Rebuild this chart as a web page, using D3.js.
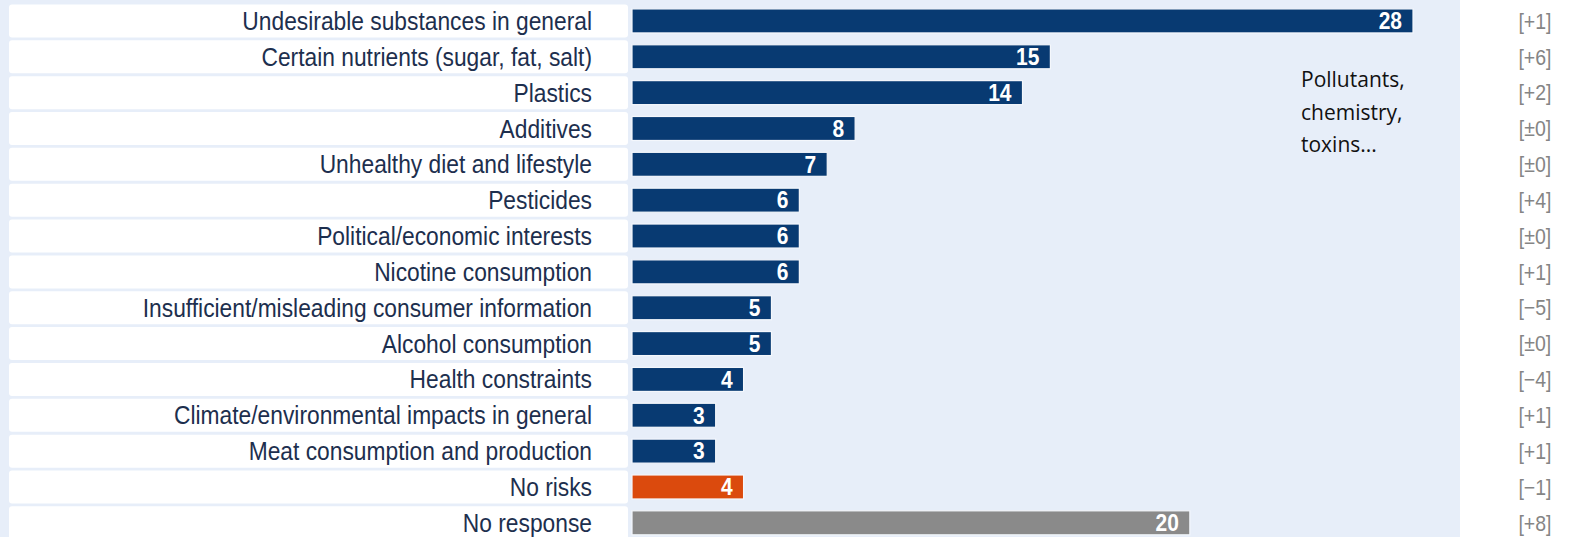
<!DOCTYPE html>
<html>
<head>
<meta charset="utf-8">
<script src="https://cdn.jsdelivr.net/npm/d3@7"></script>
<style>
  html, body { margin: 0; padding: 0; background: #ffffff; }
  svg { display: block; }
</style>
</head>
<body>
<svg id="chart" width="1594" height="537"></svg>
<script>
const categories = [
  "Undesirable substances in general",
  "Certain nutrients (sugar, fat, salt)",
  "Plastics",
  "Additives",
  "Unhealthy diet and lifestyle",
  "Pesticides",
  "Political/economic interests",
  "Nicotine consumption",
  "Insufficient/misleading consumer information",
  "Alcohol consumption",
  "Health constraints",
  "Climate/environmental impacts in general",
  "Meat consumption and production",
  "No risks",
  "No response"
];
const values = [28, 15, 14, 8, 7, 6, 6, 6, 5, 5, 4, 3, 3, 4, 20];
const changes = ["[+1]", "[+6]", "[+2]", "[±0]", "[±0]", "[+4]", "[±0]", "[+1]", "[−5]", "[±0]", "[−4]", "[+1]", "[+1]", "[−1]", "[+8]"];
const groups = ["risk","risk","risk","risk","risk","risk","risk","risk","risk","risk","risk","risk","risk","none","noresp"];
const annotationLines = ["Pollutants,", "chemistry,", "toxins..."];

const data = categories.map((c, i) => ({ cat: c, value: values[i], change: changes[i], group: groups[i] }));

const svg = d3.select("#chart");
const W = 1594, H = 537;

// background panel
svg.append("rect").attr("x", 0).attr("y", 0).attr("width", 1460).attr("height", H).attr("fill", "#e7eef9");

const y = d3.scaleBand().domain(categories).range([3, 3 + 15 * 35.85]).paddingInner(0);
const x = d3.scaleLinear().domain([0, 28]).range([632, 1413]);
const color = d3.scaleOrdinal().domain(["risk", "none", "noresp"]).range(["#083a72", "#db4a0d", "#8a8a8a"]);

const rows = svg.append("g").selectAll("g").data(data).join("g")
  .attr("transform", d => `translate(0,${y(d.cat) + y.bandwidth() / 2})`);

// white label boxes
rows.append("rect")
  .attr("x", 9).attr("y", -16.5).attr("width", 619).attr("height", 33)
  .attr("rx", 3).attr("fill", "#ffffff");

// category labels
rows.append("text")
  .attr("x", 592).attr("y", 0).attr("dy", "0.36em")
  .attr("transform", "scale(1,1.1)")
  .attr("text-anchor", "end")
  .attr("font-family", "Liberation Sans, Arial, sans-serif")
  .attr("font-size", 22.8)
  .attr("fill", "#1d2f4e")
  .text(d => d.cat);

// bars
rows.append("rect")
  .attr("x", x(0)).attr("y", -12).attr("height", 24)
  .attr("width", d => x(d.value) - x(0))
  .attr("fill", d => color(d.group))
  .attr("stroke", "#f4f7fc").attr("stroke-width", 1.2);

// value labels
rows.append("text")
  .attr("x", d => x(d.value) - 11).attr("y", 0).attr("dy", "0.36em")
  .attr("transform", "scale(1,1.1)")
  .attr("text-anchor", "end")
  .attr("font-family", "Liberation Sans, Arial, sans-serif")
  .attr("font-weight", "bold")
  .attr("font-size", 21)
  .attr("fill", "#ffffff")
  .text(d => d.value);

// change labels
rows.append("text")
  .attr("x", 1535).attr("y", 0).attr("dy", "0.36em")
  .attr("transform", "scale(1,1.1)")
  .attr("text-anchor", "middle")
  .attr("font-family", "Liberation Sans, Arial, sans-serif")
  .attr("font-size", 19.5)
  .attr("fill", "#858585")
  .text(d => d.change);

// annotation
svg.append("text")
  .attr("font-family", "Open Sans, sans-serif")
  .attr("font-size", 21)
  .attr("fill", "#111111")
  .selectAll("tspan").data(annotationLines).join("tspan")
  .attr("x", 1301)
  .attr("y", (d, i) => 87 + i * 32.5)
  .text(d => d);
</script>
</body>
</html>
